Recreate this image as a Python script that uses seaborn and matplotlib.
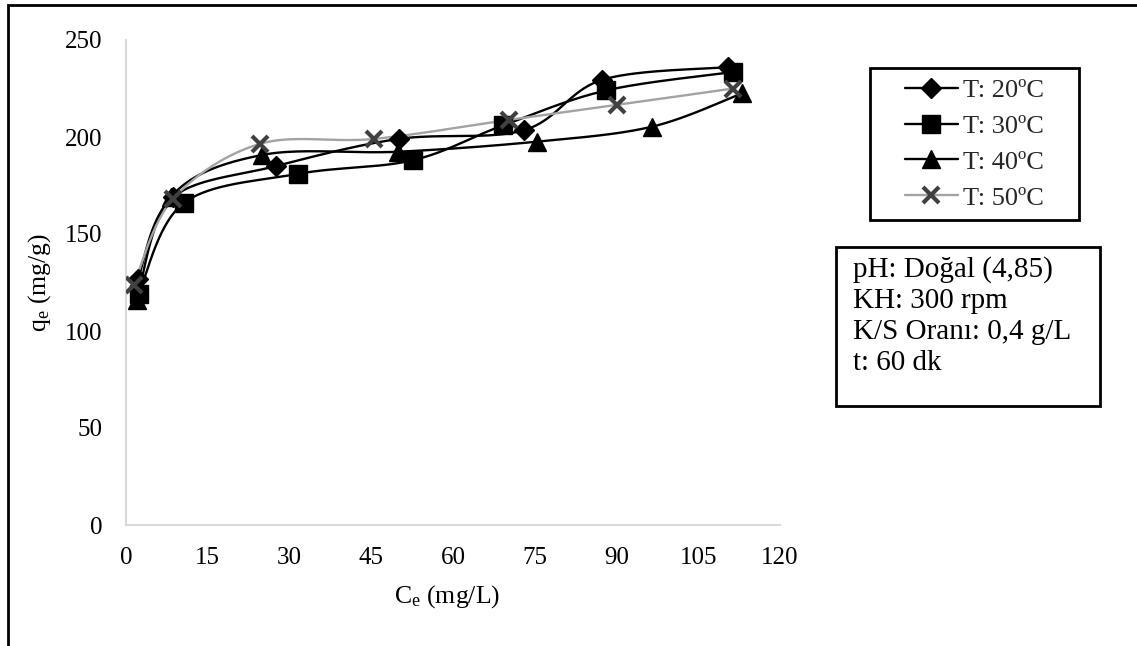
import numpy as np
import pandas as pd
import matplotlib
matplotlib.use("Agg")
import matplotlib.pyplot as plt
from matplotlib.lines import Line2D
from matplotlib.patches import Rectangle
import seaborn as sns

# ---- data ----
labels = ["T: 20ºC", "T: 30ºC", "T: 40ºC", "T: 50ºC"]
ce_20 = [2.2, 8.6, 27.5, 50.0, 73.0, 87.4, 110.5]
qe_20 = [127, 169, 185, 199, 203.5, 229.5, 236]
ce_30 = [2.3, 10.6, 31.6, 52.6, 69.2, 88.1, 111.4]
qe_30 = [119, 166, 181, 188, 206, 224, 233.5]
ce_40 = [2.0, 8.2, 24.9, 49.9, 75.4, 96.5, 113.0]
qe_40 = [116, 169, 190.7, 192.4, 197.6, 205.3, 222.5]
ce_50 = [1.4, 8.6, 24.5, 45.5, 70.2, 90.0, 111.4]
qe_50 = [123.7, 168, 196.4, 199, 208.8, 216.5, 225]
x_ticks = [0, 15, 30, 45, 60, 75, 90, 105, 120]
y_ticks = [0, 50, 100, 150, 200, 250]
info_lines = ["pH: Doğal (4,85)", "KH: 300 rpm", "K/S Oranı: 0,4 g/L", "t: 60 dk"]

series = [(ce_20, qe_20), (ce_30, qe_30), (ce_40, qe_40), (ce_50, qe_50)]
markers = ["D", "s", "^", "x"]
msizes = [10.5, 12.5, 13, 12]
line_colors = ["black", "black", "black", "#a3a3a3"]
marker_colors = ["black", "black", "black", "#404040"]

sns.set_theme(style="white")
plt.rcParams["font.family"] = ["Liberation Serif", "DejaVu Serif"]
plt.rcParams["mathtext.fontset"] = "custom"
plt.rcParams["mathtext.rm"] = "Liberation Serif"
plt.rcParams["mathtext.it"] = "Liberation Serif"

W, H = 1137, 646
fig = plt.figure(figsize=(W / 100, H / 100), dpi=100)
ax_l, ax_r, ax_t, ax_b = 126, 780, 40, 525
ax = fig.add_axes([ax_l / W, 1 - ax_b / H, (ax_r - ax_l) / W, (ax_b - ax_t) / H])
xmax, ymax = 120, 250
ax.set_xlim(0, xmax)
ax.set_ylim(0, ymax)


def smooth(xs, ys, n=40):
    # Catmull-Rom style Bezier smoothing in display-normalised space (Excel-like)
    sx = (ax_r - ax_l) / xmax
    sy = (ax_b - ax_t) / ymax
    P = np.column_stack([np.array(xs) * sx, np.array(ys) * sy])
    out = []
    m = len(P)
    for i in range(m - 1):
        p0 = P[i - 1] if i > 0 else P[i]
        p1, p2 = P[i], P[i + 1]
        p3 = P[i + 2] if i + 2 < m else P[i + 1]
        c1 = p1 + (p2 - p0) / 6
        c2 = p2 - (p3 - p1) / 6
        t = np.linspace(0, 1, n)[:, None]
        seg = ((1 - t) ** 3) * p1 + 3 * ((1 - t) ** 2) * t * c1 + 3 * (1 - t) * t ** 2 * c2 + t ** 3 * p2
        if i > 0:
            seg = seg[1:]
        out.append(seg)
    out = np.vstack(out)
    return out[:, 0] / sx, out[:, 1] / sy


for (xs, ys), lc in zip(series, line_colors):
    cx, cy = smooth(xs, ys)
    df = pd.DataFrame({"x": cx, "y": cy})
    sns.lineplot(data=df, x="x", y="y", ax=ax, color=lc, linewidth=1.7, sort=False,
                 estimator=None, zorder=2)
for (xs, ys), mk, ms, mc in zip(series, markers, msizes, marker_colors):
    dfp = pd.DataFrame({"x": xs, "y": ys})
    if mk == "x":
        ax.plot(dfp["x"], dfp["y"], linestyle="none", marker="x", markersize=ms,
                markeredgewidth=3, color=mc, zorder=4)
    else:
        ax.plot(dfp["x"], dfp["y"], linestyle="none", marker=mk, markersize=ms,
                color=mc, markeredgecolor=mc, zorder=3)

ax.set_xticks(x_ticks)
ax.set_yticks(y_ticks)
ax.tick_params(axis="y", length=0, labelsize=18, colors="black", pad=17)
ax.tick_params(axis="x", length=0, labelsize=18, colors="black", pad=16)
for s in ["top", "right"]:
    ax.spines[s].set_visible(False)
for s in ["left", "bottom"]:
    ax.spines[s].set_color("#d9d9d9")
    ax.spines[s].set_linewidth(1.5)
ax.set_xlabel(r"C$_\mathrm{e}$ (mg/L)", fontsize=18.5, color="black")
ax.set_ylabel(r"q$_\mathrm{e}$ (mg/g)", fontsize=18.5, color="black")
ax.xaxis.set_label_coords((447 - ax_l) / (ax_r - ax_l), -(597 - ax_b) / (ax_b - ax_t))
ax.yaxis.set_label_coords(-(ax_l - 40) / (ax_r - ax_l), 0.5)
ax.xaxis.label.set_va("center")
ax.yaxis.label.set_va("center")

# legend (frame drawn separately)
handles = []
for lab, mk, ms, lc, mc in zip(labels, markers, msizes, line_colors, marker_colors):
    handles.append(Line2D([0], [0], color=lc, linewidth=1.7, marker=mk, markersize=ms,
                          markerfacecolor=mc, markeredgecolor=mc,
                          markeredgewidth=3 if mk == "x" else 1.0, label=lab))
leg = fig.legend(handles=handles, loc="center",
                 bbox_to_anchor=((870 + 1079) / 2 / W, 1 - (68 + 220) / 2 / H), fontsize=19,
                 frameon=False, handlelength=2.0, handletextpad=0.2,
                 labelspacing=0.47, borderpad=0, borderaxespad=0)
fig.patches.append(Rectangle((870 / W, 1 - 220 / H), (1079 - 870) / W, (220 - 68) / H,
                             transform=fig.transFigure, fill=False, edgecolor="black",
                             linewidth=2))

# info text box
fig.patches.append(Rectangle((836 / W, 1 - 406 / H), (1100 - 836) / W, (406 - 247) / H,
                             transform=fig.transFigure, fill=False, edgecolor="black",
                             linewidth=2))
fig.text(853 / W, 1 - 256 / H, "\n".join(info_lines), fontsize=21, va="top", ha="left",
         linespacing=1.25, color="black")

# outer border (left and top visible)
fig.patches.append(Rectangle((8 / W, -0.1), 1.2, 1.1 - 5 / H, transform=fig.transFigure,
                             fill=False, edgecolor="black", linewidth=2))

fig.savefig("out.png", dpi=100)
